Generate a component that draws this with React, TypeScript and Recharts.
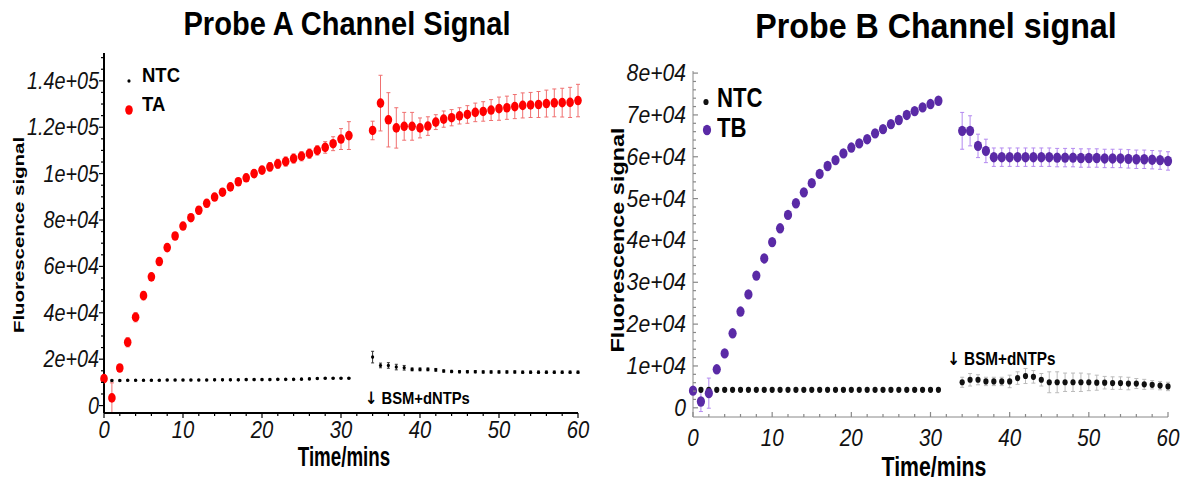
import { ScatterChart, Scatter, XAxis, YAxis, ErrorBar } from 'recharts';

// sampling times (minutes); reads paused at 32-33 while BSM+dNTPs were added
const timeMins = [
  0, 1, 2, 3, 4, 5, 6, 7, 8, 9, 10, 11, 12, 13, 14, 15, 16, 17, 18, 19, 20, 21, 22, 23, 24, 25, 26, 27, 28, 29, 30, 31,
  34, 35, 36, 37, 38, 39, 40, 41, 42, 43, 44, 45, 46, 47, 48, 49, 50, 51, 52, 53, 54, 55, 56, 57, 58, 59, 60,
];

// Probe A
const taSignal = [
  11600, 3300, 16200, 27300, 38100, 47400, 55500, 62100, 68100, 73100, 77400, 81000, 84200, 87200, 89900, 92000,
  94300, 96500, 98200, 100000, 101500, 102900, 104200, 105200, 106500, 107500, 108600, 110000, 111300, 112900, 114900, 116400,
  118600, 130400, 123200, 119700, 120400, 120400, 119700, 120500, 122200, 123500, 124100, 124900, 125500, 126400,
  126800, 127400, 128000, 128400, 128900, 129400, 129600, 129800, 130200, 130500, 130600, 130700, 131500,
];
const taErr = [
  1500, 6500, 1500, 2000, 2000, 1800, 1500, 1500, 1500, 1500, 1500, 1500, 1500, 1500, 1500, 1500,
  1500, 1500, 1500, 1500, 1500, 1800, 2000, 2000, 2000, 2000, 2000, 2000, 2500, 3000, 4500, 6000,
  4000, 12000, 11700, 8700, 6000, 6000, 4300, 4000, 3200, 3500, 3500, 3500, 3800, 4000,
  4200, 4500, 5000, 5000, 5200, 5400, 5400, 5600, 5800, 6000, 6200, 6500, 7000,
];
const ntcASignal = [
  11600, 10800, 10800, 10900, 10900, 10900, 10900, 10900, 11000, 11000, 11000, 11000, 11000, 11000, 11100, 11100,
  11100, 11100, 11200, 11200, 11200, 11200, 11300, 11300, 11300, 11400, 11500, 11700, 11800, 11800, 11800, 11800,
  20900, 17300, 17300, 16600, 16300, 15600, 15600, 15600, 15400, 14900, 14700, 14600, 14600, 14600,
  14500, 14500, 14500, 14500, 14500, 14400, 14400, 14400, 14400, 14400, 14400, 14400, 14400,
];
const ntcAErr = [
  300, 300, 300, 300, 300, 300, 300, 300, 300, 300, 300, 300, 300, 300, 300, 300,
  300, 300, 300, 300, 300, 300, 300, 300, 300, 300, 300, 300, 300, 300, 300, 300,
  2500, 1000, 1200, 1200, 1000, 600, 600, 600, 600, 500, 500, 500, 500, 500,
  500, 500, 500, 500, 500, 500, 500, 500, 500, 500, 500, 500, 500,
];

// Probe B
const tbSignal = [
  4100, 1500, 3500, 9200, 13000, 17800, 23000, 27100, 31600, 35700, 39600, 42900, 46100, 48900, 51500, 53700,
  55900, 57800, 59200, 60800, 62200, 63200, 64200, 65600, 66600, 67800, 68800, 70000, 70900, 71800, 72600, 73400,
  66200, 66200, 62600, 61400, 59900, 59900, 59900, 59900, 59900, 59900, 59900, 59900, 59800, 59800,
  59800, 59700, 59700, 59700, 59600, 59600, 59600, 59500, 59400, 59400, 59300, 59200, 59000,
];
const tbErr = [
  600, 2400, 3600, 600, 600, 600, 600, 600, 600, 600, 600, 600, 600, 600, 600, 600,
  600, 600, 600, 600, 600, 600, 600, 600, 600, 600, 600, 600, 600, 600, 600, 600,
  4400, 3600, 2800, 2800, 2200, 2200, 2200, 2200, 2200, 2200, 2200, 2200, 2200, 2200,
  2200, 2200, 2200, 2200, 2200, 2200, 2200, 2200, 2200, 2200, 2200, 2200, 2200,
];
const ntcBSignal = [
  4300, 4300, 4300, 4300, 4300, 4300, 4300, 4300, 4300, 4300, 4300, 4300, 4300, 4300, 4300, 4300,
  4300, 4300, 4300, 4300, 4300, 4300, 4300, 4300, 4300, 4300, 4300, 4300, 4300, 4300, 4300, 4300,
  6100, 6700, 6700, 6300, 6300, 6300, 6300, 7100, 7600, 7400, 6700, 6100, 6100, 6100,
  6100, 6100, 6100, 6000, 6000, 5900, 5900, 5800, 5800, 5600, 5500, 5300, 5100,
];
const ntcBErr = [
  300, 300, 300, 300, 300, 300, 300, 300, 300, 300, 300, 300, 300, 300, 300, 300,
  300, 300, 300, 300, 300, 300, 300, 300, 300, 300, 300, 300, 300, 300, 300, 300,
  1200, 1500, 1200, 1000, 1000, 1000, 1500, 1500, 1800, 1500, 1500, 2500, 2500, 2200,
  2200, 2200, 2000, 1800, 1500, 1500, 1500, 1500, 1200, 1200, 1000, 1000, 1000,
];

// axis ticks
const xMajorTicks = [0, 10, 20, 30, 40, 50, 60];
const xTickLabels = ['0', '10', '20', '30', '40', '50', '60'];
const yMajorTicksA = [0, 20000, 40000, 60000, 80000, 100000, 120000, 140000];
const yTickLabelsA = ['0', '2e+04', '4e+04', '6e+04', '8e+04', '1e+05', '1.2e+05', '1.4e+05'];
const yMajorTicksB = [0, 10000, 20000, 30000, 40000, 50000, 60000, 70000, 80000];
const yTickLabelsB = ['0', '1e+04', '2e+04', '3e+04', '4e+04', '5e+04', '6e+04', '7e+04', '8e+04'];

const FONT = '"Liberation Sans", Arial, sans-serif';

function minorTicks(max: number, step: number) {
  const out: number[] = [];
  for (let v = 0; v <= max + 1e-6; v += step) out.push(Math.round(v * 1000) / 1000);
  return out;
}

function rows(sig: number[], err: number[]) {
  return timeMins.map((t, i) => ({ t, v: sig[i], err: err[i] }));
}

const ellipse = (rx: number, ry: number, fill: string) => (p: any) =>
  p.cx == null ? <g /> : <ellipse cx={p.cx} cy={p.cy} rx={rx} ry={ry} fill={fill} />;

function YTick(props: any) {
  const { x, y, payload, majors, labels, inside, stroke, fs, sx, dy, gap } = props;
  const idx = majors.indexOf(payload.value);
  const major = idx >= 0;
  const len = major ? 5 : 3;
  const dir = inside ? 1 : -1;
  return (
    <g>
      <line x1={x} x2={x + dir * len} y1={y} y2={y} stroke={stroke} strokeWidth={1.2} />
      {major && (
        <text
          transform={`translate(${x - gap},${y + dy}) scale(${sx},1)`}
          textAnchor="end"
          fontFamily={FONT}
          fontStyle="italic"
          fontSize={fs}
          fill="#111"
        >
          {labels[idx]}
        </text>
      )}
    </g>
  );
}

function XTick(props: any) {
  const { x, y, payload, inside, stroke, fs, sx, dy } = props;
  const idx = xMajorTicks.indexOf(payload.value);
  const major = idx >= 0;
  const len = major ? 5 : 3;
  const dir = inside ? -1 : 1;
  return (
    <g>
      <line x1={x} x2={x} y1={y} y2={y + dir * len} stroke={stroke} strokeWidth={1.2} />
      {major && (
        <text
          transform={`translate(${x},${y + dy}) scale(${sx},1)`}
          textAnchor="middle"
          fontFamily={FONT}
          fontStyle="italic"
          fontSize={fs}
          fill="#111"
        >
          {xTickLabels[idx]}
        </text>
      )}
    </g>
  );
}

// overlay text with horizontal squeeze, positioned by baseline (tight line box)
function Txt({ x, y, fs, sx = 1, anchor = 'start', children, weight = 700 }: any) {
  const origin = anchor === 'middle' ? 'center' : 'left';
  return (
    <div
      style={{
        position: 'absolute',
        left: x,
        top: y - 0.7465 * fs,
        fontFamily: FONT,
        fontWeight: weight,
        fontSize: fs,
        lineHeight: `${0.8 * fs}px`,
        whiteSpace: 'nowrap',
        color: '#000',
        transformOrigin: origin,
        transform: anchor === 'middle' ? `translateX(-50%) scaleX(${sx})` : `scaleX(${sx})`,
      }}
    >
      {children}
    </div>
  );
}

function VTxt({ cx, cy, fs, sx, children }: any) {
  return (
    <div
      style={{
        position: 'absolute',
        left: cx,
        top: cy,
        fontFamily: FONT,
        fontWeight: 700,
        fontSize: fs,
        lineHeight: `${fs}px`,
        whiteSpace: 'nowrap',
        transform: `translate(-50%,-50%) rotate(-90deg) scaleX(${sx})`,
      }}
    >
      {children}
    </div>
  );
}

function Dot({ x, y, rx, ry, fill }: any) {
  return (
    <svg style={{ position: 'absolute', left: x - 6, top: y - 6 }} width={12} height={12}>
      <ellipse cx={6} cy={6} rx={rx} ry={ry} fill={fill} />
    </svg>
  );
}

const Arrow = () => <span style={{ fontFamily: '"DejaVu Sans", sans-serif', color: '#000' }}>↓</span>;

export default function App() {
  const taData = rows(taSignal, taErr);
  const ntcAData = rows(ntcASignal, ntcAErr);
  const tbData = rows(tbSignal, tbErr);
  const ntcBData = rows(ntcBSignal, ntcBErr);

  const xTicks = minorTicks(60, 2);
  const yTicksA = minorTicks(150000, 5000);
  const yTicksB = minorTicks(80000, 2000);

  return (
    <div style={{ position: 'absolute', left: 0, top: 0, width: 1190, height: 481, background: '#fff', overflow: 'hidden' }}>
      {/* Probe A */}
      <div style={{ position: 'absolute', left: 0, top: 0 }}>
        <ScatterChart width={600} height={481} margin={{ top: 53, right: 22, bottom: 0, left: 0 }}>
          <XAxis
            type="number"
            dataKey="t"
            domain={[0, 60]}
            ticks={xTicks}
            interval={0}
            height={68}
            tickSize={0}
            tickMargin={0}
            tickLine={false}
            axisLine={{ stroke: '#000', strokeWidth: 2 }}
            tick={(p: any) => <XTick {...p} stroke="#000" fs={23} sx={0.88} dy={25} />}
          />
          <YAxis
            type="number"
            dataKey="v"
            domain={[-2600, 152000]}
            ticks={yTicksA}
            interval={0}
            width={104}
            tickSize={0}
            tickMargin={0}
            tickLine={false}
            axisLine={{ stroke: '#000', strokeWidth: 2 }}
            tick={(p: any) => (
              <YTick {...p} majors={yMajorTicksA} labels={yTickLabelsA} stroke="#000" fs={23} sx={0.86} dy={8} gap={5} />
            )}
          />
          <Scatter name="NTC" data={ntcAData} isAnimationActive={false} shape={ellipse(1.6, 1.8, '#000')}>
            <ErrorBar dataKey="err" direction="y" width={1.5} stroke="#333" strokeWidth={1} />
          </Scatter>
          <Scatter name="TA" data={taData} isAnimationActive={false} shape={ellipse(3.8, 4.8, '#ff0000')}>
            <ErrorBar dataKey="err" direction="y" width={2} stroke="#f07070" strokeWidth={1} />
          </Scatter>
        </ScatterChart>
      </div>

      {/* Probe B */}
      <div style={{ position: 'absolute', left: 600, top: 0 }}>
        <ScatterChart width={590} height={481} margin={{ top: 71, right: 22, bottom: 0, left: 0 }}>
          <XAxis
            type="number"
            dataKey="t"
            domain={[0, 60]}
            ticks={xTicks}
            interval={0}
            height={64}
            tickSize={0}
            tickMargin={0}
            tickLine={false}
            axisLine={{ stroke: '#888', strokeWidth: 1 }}
            tick={(p: any) => <XTick {...p} inside stroke="#888" fs={24} sx={0.86} dy={29} />}
          />
          <YAxis
            type="number"
            dataKey="v"
            domain={[-2200, 80500]}
            ticks={yTicksB}
            interval={0}
            width={93}
            tickSize={0}
            tickMargin={0}
            tickLine={false}
            axisLine={{ stroke: '#888', strokeWidth: 1 }}
            tick={(p: any) => (
              <YTick {...p} majors={yMajorTicksB} labels={yTickLabelsB} inside stroke="#888" fs={23} sx={0.92} dy={8} gap={7} />
            )}
          />
          <Scatter name="NTC" data={ntcBData} isAnimationActive={false} shape={ellipse(2.6, 3.1, '#111')}>
            <ErrorBar dataKey="err" direction="y" width={2} stroke="#bbb" strokeWidth={1} />
          </Scatter>
          <Scatter name="TB" data={tbData} isAnimationActive={false} shape={ellipse(4.1, 5.2, '#5a2aa6')}>
            <ErrorBar dataKey="err" direction="y" width={2} stroke="#b48af0" strokeWidth={1} />
          </Scatter>
        </ScatterChart>
      </div>

      {/* titles */}
      <Txt x={347} y={36} fs={33} sx={0.88} anchor="middle">Probe A Channel Signal</Txt>
      <Txt x={936} y={38} fs={35} sx={0.92} anchor="middle">Probe B Channel signal</Txt>

      {/* axis titles */}
      <VTxt cx={18} cy={235} fs={15} sx={1.36}>Fluorescence signal</VTxt>
      <VTxt cx={618} cy={240} fs={18} sx={1.3}>Fluorescence signal</VTxt>
      <Txt x={344} y={467} fs={28} sx={0.67} anchor="middle">Time/mins</Txt>
      <Txt x={934} y={477} fs={28} sx={0.76} anchor="middle">Time/mins</Txt>

      {/* legends */}
      <Dot x={129} y={81} rx={1.6} ry={1.8} fill="#000" />
      <Txt x={142} y={83} fs={21} sx={0.88}>NTC</Txt>
      <Dot x={129} y={110} rx={3.8} ry={4.8} fill="#ff0000" />
      <Txt x={142} y={112} fs={21} sx={0.88}>TA</Txt>
      <Dot x={706} y={102} rx={2.6} ry={3.1} fill="#111" />
      <Txt x={717} y={108} fs={27} sx={0.82}>NTC</Txt>
      <Dot x={707} y={130} rx={4.1} ry={5.2} fill="#5a2aa6" />
      <Txt x={717} y={138} fs={27} sx={0.82}>TB</Txt>

      {/* reagent addition annotation */}
      <Txt x={365} y={405} fs={17} sx={0.87}><Arrow /> BSM+dNTPs</Txt>
      <Txt x={947} y={365} fs={18} sx={0.85}><Arrow /> BSM+dNTPs</Txt>
    </div>
  );
}
